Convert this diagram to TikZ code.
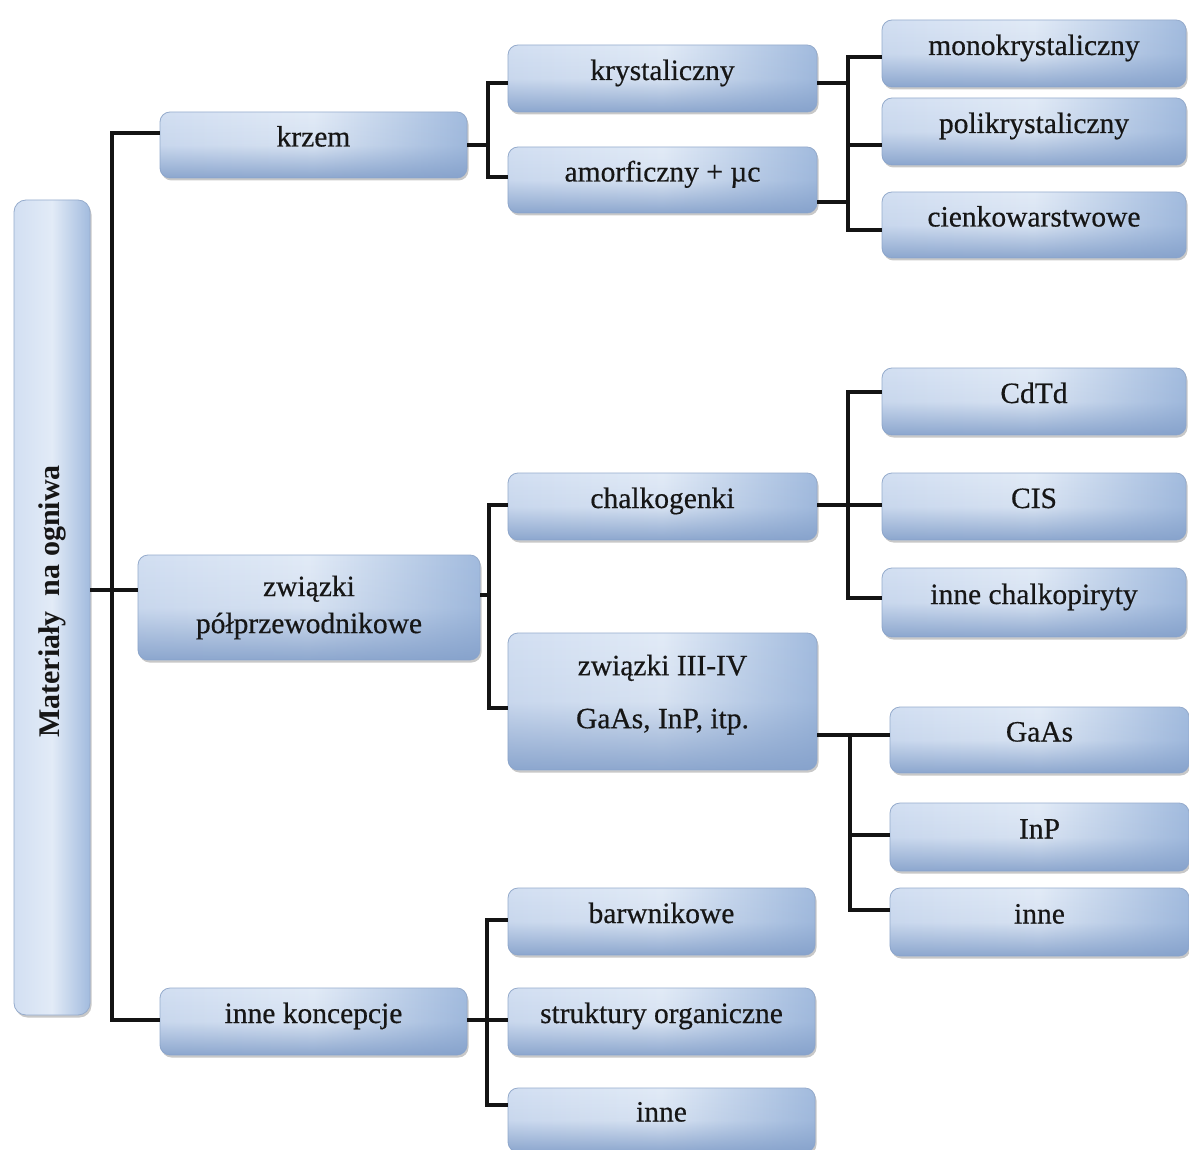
\documentclass[tikz,border=0pt]{standalone}
\usepackage{fontspec}
\usepackage{graphicx}
\setmainfont{Liberation Serif}[UprightFeatures={FakeBold=0.5}]
\usetikzlibrary{shadows,fadings}
\definecolor{bxL}{RGB}{210,223,242}
\definecolor{bxM}{RGB}{226,235,247}
\definecolor{bxR}{RGB}{162,187,222}
\definecolor{bxRim}{RGB}{132,160,202}
\definecolor{bxEdge}{RGB}{150,172,205}
\definecolor{txt}{RGB}{22,22,22}
\tikzfading[name=rimfade, top color=transparent!100, bottom color=transparent!10, middle color=transparent!88]
\begin{document}
\begin{tikzpicture}[x=1pt,y=-1pt,
  box/.style={draw=bxEdge, line width=0.8pt, rounded corners=10pt, inner sep=0pt,
     left color=bxL, right color=bxR, middle color=bxM,
     drop shadow={shadow xshift=1.5pt, shadow yshift=-2.5pt, opacity=0.3, fill=black!70},
     postaction={fill=bxRim, path fading=rimfade},
     text=txt, font=\fontsize{29.5}{34}\selectfont},
  one/.style={box, text height=20pt, text depth=17pt},
  multi/.style={box, align=center},
  rootbox/.style={draw=bxEdge, line width=0.8pt, rounded corners=12pt, inner sep=0pt,
     left color=bxL, right color=bxR, middle color=bxM,
     drop shadow={shadow xshift=1.5pt, shadow yshift=-2.5pt, opacity=0.3, fill=black!70},
     text=txt},
  conn/.style={line width=3.4pt, draw=black!92},
]
\fill[white] (0,0) rectangle (1189,1150);
\useasboundingbox (0,0) rectangle (1189,1150);

% root
\node[rootbox, minimum width=76pt, minimum height=815pt] (root) at (52,607.5)
  {\rotatebox{90}{\hspace{12pt}\fontsize{30}{34}\selectfont\bfseries Materiały\ \ na ogniwa}};

% level 1
\node[one, minimum width=307pt, minimum height=66pt] (krzem) at (313.5,145) {krzem};
\node[multi, minimum width=342pt, minimum height=105pt, font=\fontsize{29.5}{37}\selectfont] (zw) at (309,607.5) {związki\\półprzewodnikowe};
\node[one, minimum width=307pt, minimum height=67pt] (ik) at (313.5,1021.5) {inne koncepcje};

% level 2
\node[one, minimum width=309pt, minimum height=67pt] (kryst) at (662.5,78.5) {krystaliczny};
\node[one, minimum width=309pt, minimum height=66pt] (amorf) at (662.5,180) {amorficzny + µc};
\node[one, minimum width=309pt, minimum height=67pt] (chalk) at (662.5,506.5) {chalkogenki};
\node[multi, minimum width=309pt, minimum height=137pt] (iiiv) at (662.5,701.5) {związki III-IV\\[19pt]GaAs, InP, itp.\rule[-20pt]{0pt}{20pt}};
\node[one, minimum width=307pt, minimum height=67pt] (barw) at (661.5,921.5) {barwnikowe};
\node[one, minimum width=307pt, minimum height=67pt] (strukt) at (661.5,1021.5) {struktury organiczne};
\node[one, minimum width=307pt, minimum height=64pt] (inne2) at (661.5,1120) {inne};

% level 3
\node[one, minimum width=304pt, minimum height=67pt] (mono) at (1034,53.5) {monokrystaliczny};
\node[one, minimum width=304pt, minimum height=67pt] (poli) at (1034,131.5) {polikrystaliczny};
\node[one, minimum width=304pt, minimum height=66pt] (cienk) at (1034,225) {cienkowarstwowe};
\node[one, minimum width=304pt, minimum height=67pt] (cdtd) at (1034,401.5) {CdTd};
\node[one, minimum width=304pt, minimum height=67pt] (cis) at (1034,506.5) {CIS};
\node[one, minimum width=304pt, minimum height=69pt] (ichalk) at (1034,602.5) {inne chalkopiryty};
\node[one, minimum width=299pt, minimum height=66pt] (gaas) at (1039.5,740) {GaAs};
\node[one, minimum width=299pt, minimum height=68pt] (inp) at (1039.5,837) {InP};
\node[one, minimum width=299pt, minimum height=68pt] (inne1) at (1039.5,922) {inne};

% junction points
\coordinate (j0) at (112,590);
\coordinate (j1) at (488,145);
\coordinate (j2) at (848,83);
\coordinate (j3) at (848,202);
\coordinate (j4) at (848,145);
\coordinate (j5) at (489,595);
\coordinate (j6) at (848,505);
\coordinate (j7) at (850,735);
\coordinate (j8) at (487,1020);

% connectors: root
\draw[conn] (root.east |- j0) -- (zw.west |- j0);
\draw[conn] ([yshift=12pt]krzem.west) -| (j0) |- ([yshift=1.5pt]ik.west);
% krzem
\draw[conn] (krzem.east) -- (j1);
\draw[conn] ([yshift=-4.5pt]kryst.west) -| (j1) |- ([yshift=3pt]amorf.west);
% krystaliczny / amorficzny
\draw[conn] ([yshift=-4.5pt]kryst.east) -- (j2);
\draw[conn] ([yshift=-22pt]amorf.east) -- (j3);
\draw[conn] ([yshift=-3.5pt]mono.west) -| (j2) |- ([yshift=-5pt]cienk.west);
\draw[conn] (j4) -- ([yshift=-13.5pt]poli.west);
% zwiazki
\draw[conn] ([yshift=12.5pt]zw.east) -- (j5);
\draw[conn] ([yshift=1.5pt]chalk.west) -| (j5) |- ([yshift=-6.5pt]iiiv.west);
% chalkogenki
\draw[conn] ([yshift=1.5pt]chalk.east) -- ([yshift=1.5pt]cis.west);
\draw[conn] ([yshift=9.5pt]cdtd.west) -| (j6) |- ([yshift=4.5pt]ichalk.west);
% III-IV
\draw[conn] ([yshift=-33.5pt]iiiv.east) -- ([yshift=5pt]gaas.west);
\draw[conn] (j7) |- ([yshift=2pt]inp.west);
\draw[conn] (j7) |- ([yshift=12pt]inne1.west);
% inne koncepcje
\draw[conn] ([yshift=1.5pt]ik.east) -- ([yshift=1.5pt]strukt.west);
\draw[conn] ([yshift=1.5pt]barw.west) -| (j8) |- ([yshift=15pt]inne2.west);
\end{tikzpicture}
\end{document}
